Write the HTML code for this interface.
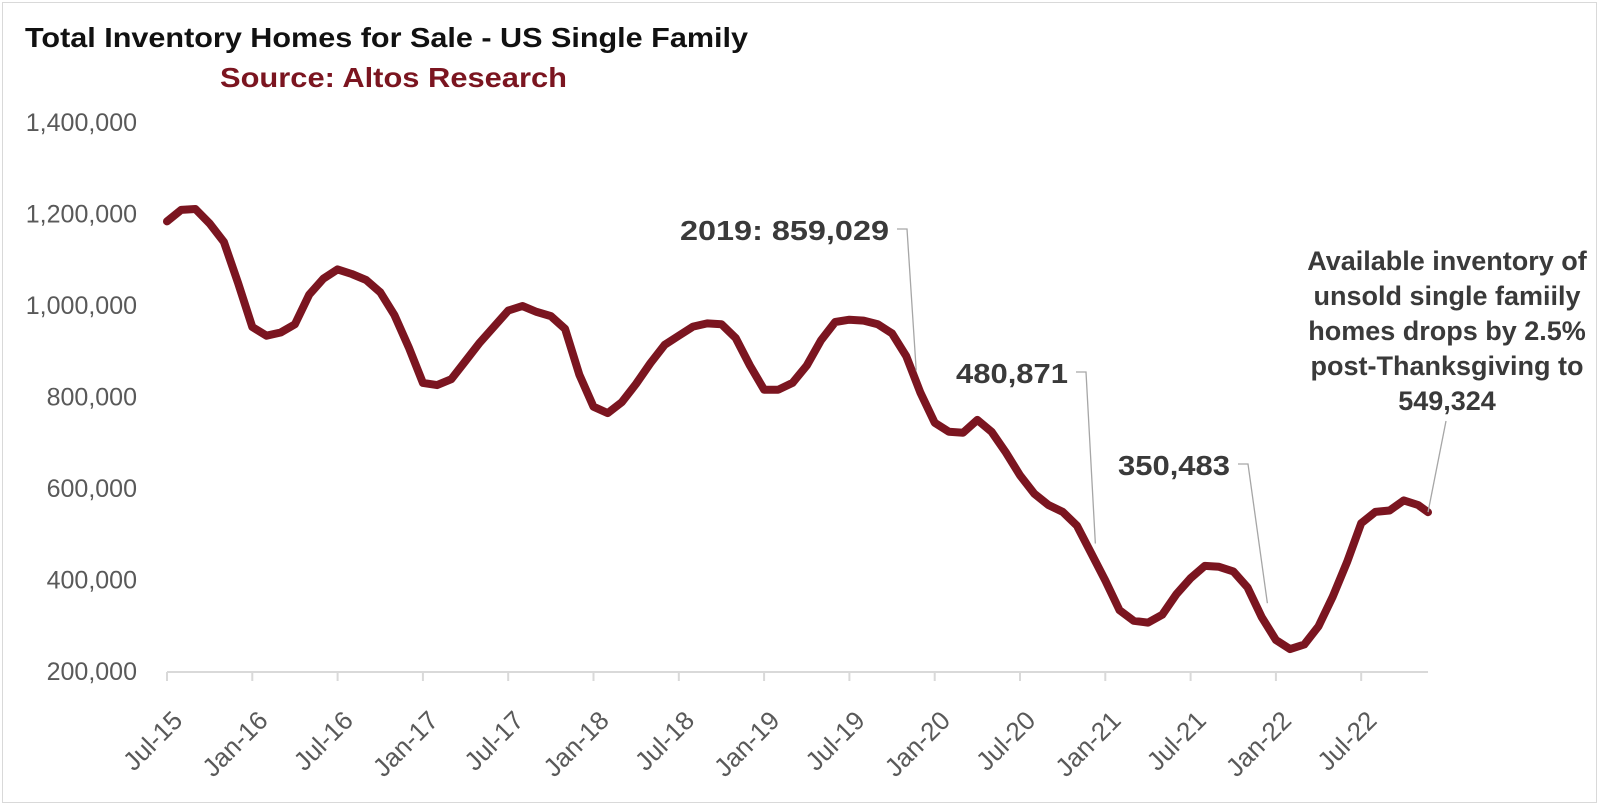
<!DOCTYPE html>
<html><head><meta charset="utf-8"><style>
html,body{margin:0;padding:0;background:#fff;}
svg{display:block;font-family:"Liberation Sans",sans-serif;}
</style></head><body>
<svg id="chart" width="1600" height="805" viewBox="0 0 1600 805" xmlns="http://www.w3.org/2000/svg">
<rect x="2.5" y="2.5" width="1594" height="800" fill="#fff" stroke="#d9d9d9" stroke-width="1"/>
<text x="25" y="47" font-size="28" font-weight="bold" fill="#111" textLength="723" lengthAdjust="spacingAndGlyphs">Total Inventory Homes for Sale - US Single Family</text>
<text x="220" y="87" font-size="28" font-weight="bold" fill="#7b1520" textLength="347" lengthAdjust="spacingAndGlyphs">Source: Altos Research</text>
<g id="yaxis"></g>
<g id="xaxis"></g>
<g id="series"></g>
<g id="annos"></g>
</svg>
<script>
// ---- data ----
const yTicks = [200000, 400000, 600000, 800000, 1000000, 1200000, 1400000];
const xTickLabels = ["Jul-15","Jan-16","Jul-16","Jan-17","Jul-17","Jan-18","Jul-18","Jan-19","Jul-19","Jan-20","Jul-20","Jan-21","Jul-21","Jan-22","Jul-22"];
// monthly values starting Jul-15 (in thousands)
const inventoryK = [1185,1210,1212,1180,1140,1050,954,935,942,960,1025,1060,1080,1070,1057,1030,980,910,832,827,840,880,920,955,990,1000,987,978,950,850,780,766,790,830,875,915,935,955,962,960,930,870,817,817,832,870,925,965,970,968,960,940,890,810,745,725,723,751,725,680,630,590,565,550,520,460,400,335,312,308,325,370,405,432,430,420,385,320,270,250,260,300,365,440,525,550,553,575,565];
const lastValue = 549324;
const lastMonth = 88.7;
const annoValues = [859029, 480871, 350483];
const annoMonths = [52.7, 65.3, 77.4];

// ---- scales ----
const NS = "http://www.w3.org/2000/svg";
const X0 = 167, MONTH = 85.3/6, AXIS_Y = 672, PER200K = 91.5;
function xs(m){ return X0 + m*MONTH; }
function ys(v){ return AXIS_Y - (v-200000)/200000*PER200K; }
function mk(tag, attrs, parent){ const e=document.createElementNS(NS,tag); for(const k in attrs) e.setAttribute(k,attrs[k]); parent.appendChild(e); return e; }
function fmt(v){ return v.toLocaleString("en-US"); }

const yg = document.getElementById("yaxis");
yTicks.forEach(v=>{
  const t = mk("text",{x:137,y:ys(v)+8,"text-anchor":"end","font-size":"25",fill:"#595959"},yg);
  
  
  t.textContent = fmt(v);
});

const xg = document.getElementById("xaxis");
const axisLine = mk("line",{x1:X0,y1:AXIS_Y,x2:xs(lastMonth),y2:AXIS_Y,stroke:"#d9d9d9","stroke-width":"2"},xg);


xTickLabels.forEach((lab,i)=>{
  const x = xs(i*6);
  const tk = mk("line",{x1:x,y1:AXIS_Y,x2:x,y2:AXIS_Y+9,stroke:"#d9d9d9","stroke-width":"2"},xg);
  
  
  const ax = x+17, ay = AXIS_Y+50;
  const t = mk("text",{x:ax,y:ay,"text-anchor":"end","font-size":"26",fill:"#595959",transform:`rotate(-45 ${ax} ${ay})`},xg);
  
  
  t.textContent = lab;
});

const sg = document.getElementById("series");
let pts = inventoryK.map((v,i)=>[xs(i), ys(v*1000)]);
pts.push([xs(lastMonth), ys(lastValue)]);
const line = mk("polyline",{points:pts.map(p=>p[0].toFixed(1)+","+p[1].toFixed(1)).join(" "),fill:"none",stroke:"#7b1520","stroke-width":"8","stroke-linejoin":"round","stroke-linecap":"round"},sg);



const ag = document.getElementById("annos");
const annoText = [["2019:  " + fmt(annoValues[0]), 680, 889, 240],[fmt(annoValues[1]), 956, 1068, 383],[fmt(annoValues[2]), 1118, 1230, 475]];
annoText.forEach((a,i)=>{
  const t = mk("text",{x:a[1],y:a[3],"font-size":"28","font-weight":"bold",fill:"#3a3a3a",textLength:a[2]-a[1],lengthAdjust:"spacingAndGlyphs"},ag);
  
  
  t.textContent = a[0];
  const ly = a[3]-11;
  const px = xs(annoMonths[i]), py = ys(annoValues[i]);
  const l = mk("polyline",{points:`${a[2]+8},${ly} ${a[2]+18},${ly} ${px},${py}`,fill:"none",stroke:"#a6a6a6","stroke-width":"1.3"},ag);
  
  
});
const noteLines = ["Available inventory of","unsold single famiily","homes drops by 2.5%","post-Thanksgiving to", fmt(lastValue)];
noteLines.forEach((s,i)=>{
  const t = mk("text",{x:1447,y:270+i*35,"text-anchor":"middle","font-size":"27","font-weight":"bold",fill:"#3a3a3a"},ag);
  
  
  t.textContent = s;
});
const cl = mk("line",{x1:1446,y1:421,x2:xs(lastMonth),y2:ys(lastValue),stroke:"#a6a6a6","stroke-width":"1.3"},ag);


</script>
</body></html>
